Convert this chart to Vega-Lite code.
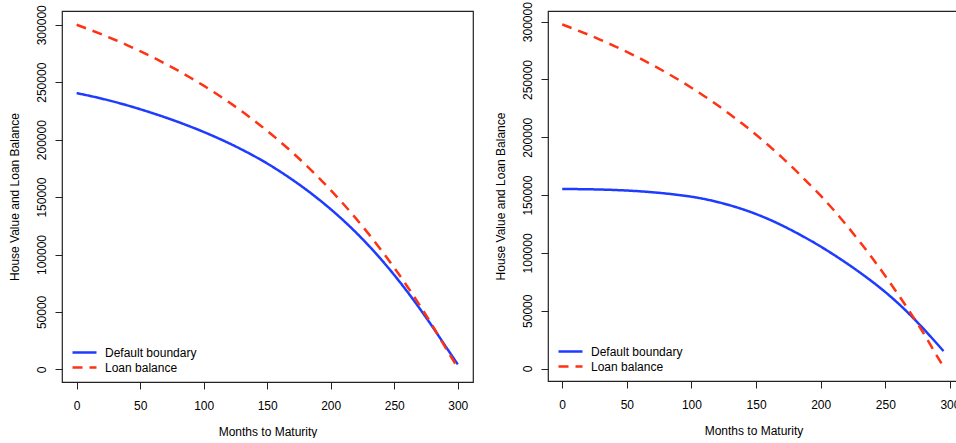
{
  "$schema": "https://vega.github.io/schema/vega-lite/v6.json",
  "background": "white",
  "padding": {"left": 7, "top": 1, "right": 0, "bottom": 0},
  "spacing": 19,
  "config": {
    "font": "Liberation Sans",
    "view": {"stroke": "#222222", "strokeWidth": 1.2},
    "axis": {
      "domain": false, "grid": false, "tickColor": "#222222", "tickSize": 7, "tickWidth": 1,
      "labelFont": "Liberation Sans", "labelFontSize": 12, "labelColor": "#000000",
      "titleFont": "Liberation Sans", "titleFontSize": 12, "titleFontWeight": "normal", "titleColor": "#000000"
    },
    "axisX": {"labelPadding": 11, "titlePadding": 15},
    "axisY": {"labelAngle": -90, "labelAlign": "center", "labelBaseline": "bottom", "labelPadding": 7, "titlePadding": 14},
    "legend": {
      "orient": "bottom-left", "offset": 7, "padding": 0, "title": null,
      "symbolType": "stroke", "symbolSize": 576, "symbolStrokeWidth": 2.5, "symbolOffset": 2,
      "labelFont": "Liberation Sans", "labelFontSize": 12, "labelColor": "#000000", "labelOffset": 7,
      "rowPadding": 0, "clipHeight": 15
    }
  },
  "datasets": {
    "left": [
      {"month": 0, "series": "Default boundary", "value": 240500},
      {"month": 10, "series": "Default boundary", "value": 238200},
      {"month": 20, "series": "Default boundary", "value": 235650},
      {"month": 30, "series": "Default boundary", "value": 232850},
      {"month": 40, "series": "Default boundary", "value": 229800},
      {"month": 50, "series": "Default boundary", "value": 226500},
      {"month": 60, "series": "Default boundary", "value": 223000},
      {"month": 70, "series": "Default boundary", "value": 219300},
      {"month": 80, "series": "Default boundary", "value": 215350},
      {"month": 90, "series": "Default boundary", "value": 211150},
      {"month": 100, "series": "Default boundary", "value": 206700},
      {"month": 110, "series": "Default boundary", "value": 201950},
      {"month": 120, "series": "Default boundary", "value": 196850},
      {"month": 130, "series": "Default boundary", "value": 191400},
      {"month": 140, "series": "Default boundary", "value": 185550},
      {"month": 150, "series": "Default boundary", "value": 179250},
      {"month": 160, "series": "Default boundary", "value": 172350},
      {"month": 170, "series": "Default boundary", "value": 164950},
      {"month": 180, "series": "Default boundary", "value": 157050},
      {"month": 190, "series": "Default boundary", "value": 148550},
      {"month": 200, "series": "Default boundary", "value": 139450},
      {"month": 210, "series": "Default boundary", "value": 129650},
      {"month": 220, "series": "Default boundary", "value": 119050},
      {"month": 230, "series": "Default boundary", "value": 107650},
      {"month": 240, "series": "Default boundary", "value": 95350},
      {"month": 250, "series": "Default boundary", "value": 82150},
      {"month": 260, "series": "Default boundary", "value": 68050},
      {"month": 270, "series": "Default boundary", "value": 53050},
      {"month": 280, "series": "Default boundary", "value": 37250},
      {"month": 290, "series": "Default boundary", "value": 20750},
      {"month": 300, "series": "Default boundary", "value": 4350},
      {"month": 0, "series": "Loan balance", "value": 300000},
      {"month": 10, "series": "Loan balance", "value": 295896},
      {"month": 20, "series": "Loan balance", "value": 291564},
      {"month": 30, "series": "Loan balance", "value": 286989},
      {"month": 40, "series": "Loan balance", "value": 282162},
      {"month": 50, "series": "Loan balance", "value": 277065},
      {"month": 60, "series": "Loan balance", "value": 271689},
      {"month": 70, "series": "Loan balance", "value": 266010},
      {"month": 80, "series": "Loan balance", "value": 260019},
      {"month": 90, "series": "Loan balance", "value": 253695},
      {"month": 100, "series": "Loan balance", "value": 247017},
      {"month": 110, "series": "Loan balance", "value": 239970},
      {"month": 120, "series": "Loan balance", "value": 232533},
      {"month": 130, "series": "Loan balance", "value": 224682},
      {"month": 140, "series": "Loan balance", "value": 216396},
      {"month": 150, "series": "Loan balance", "value": 207648},
      {"month": 160, "series": "Loan balance", "value": 198414},
      {"month": 170, "series": "Loan balance", "value": 188670},
      {"month": 180, "series": "Loan balance", "value": 178383},
      {"month": 190, "series": "Loan balance", "value": 167526},
      {"month": 200, "series": "Loan balance", "value": 156066},
      {"month": 210, "series": "Loan balance", "value": 143970},
      {"month": 220, "series": "Loan balance", "value": 131202},
      {"month": 230, "series": "Loan balance", "value": 117726},
      {"month": 240, "series": "Loan balance", "value": 103503},
      {"month": 250, "series": "Loan balance", "value": 88488},
      {"month": 260, "series": "Loan balance", "value": 72642},
      {"month": 270, "series": "Loan balance", "value": 55914},
      {"month": 280, "series": "Loan balance", "value": 38259},
      {"month": 290, "series": "Loan balance", "value": 19623},
      {"month": 300, "series": "Loan balance", "value": 1500}
    ],
    "right": [
      {"month": 0, "series": "Default boundary", "value": 155300},
      {"month": 10, "series": "Default boundary", "value": 155200},
      {"month": 20, "series": "Default boundary", "value": 155050},
      {"month": 30, "series": "Default boundary", "value": 154800},
      {"month": 40, "series": "Default boundary", "value": 154450},
      {"month": 50, "series": "Default boundary", "value": 153950},
      {"month": 60, "series": "Default boundary", "value": 153300},
      {"month": 70, "series": "Default boundary", "value": 152450},
      {"month": 80, "series": "Default boundary", "value": 151400},
      {"month": 90, "series": "Default boundary", "value": 150100},
      {"month": 100, "series": "Default boundary", "value": 148600},
      {"month": 110, "series": "Default boundary", "value": 146600},
      {"month": 120, "series": "Default boundary", "value": 144100},
      {"month": 130, "series": "Default boundary", "value": 141100},
      {"month": 140, "series": "Default boundary", "value": 137600},
      {"month": 150, "series": "Default boundary", "value": 133600},
      {"month": 160, "series": "Default boundary", "value": 129000},
      {"month": 170, "series": "Default boundary", "value": 123800},
      {"month": 180, "series": "Default boundary", "value": 118100},
      {"month": 190, "series": "Default boundary", "value": 112000},
      {"month": 200, "series": "Default boundary", "value": 105500},
      {"month": 210, "series": "Default boundary", "value": 98500},
      {"month": 220, "series": "Default boundary", "value": 91100},
      {"month": 230, "series": "Default boundary", "value": 83300},
      {"month": 240, "series": "Default boundary", "value": 75000},
      {"month": 250, "series": "Default boundary", "value": 66100},
      {"month": 260, "series": "Default boundary", "value": 56300},
      {"month": 270, "series": "Default boundary", "value": 45500},
      {"month": 280, "series": "Default boundary", "value": 33800},
      {"month": 290, "series": "Default boundary", "value": 21400},
      {"month": 295, "series": "Default boundary", "value": 15100},
      {"month": 0, "series": "Loan balance", "value": 297600},
      {"month": 10, "series": "Loan balance", "value": 293340},
      {"month": 20, "series": "Loan balance", "value": 288860},
      {"month": 30, "series": "Loan balance", "value": 284140},
      {"month": 40, "series": "Loan balance", "value": 279150},
      {"month": 50, "series": "Loan balance", "value": 273880},
      {"month": 60, "series": "Loan balance", "value": 268330},
      {"month": 70, "series": "Loan balance", "value": 262460},
      {"month": 80, "series": "Loan balance", "value": 256270},
      {"month": 90, "series": "Loan balance", "value": 249740},
      {"month": 100, "series": "Loan balance", "value": 242850},
      {"month": 110, "series": "Loan balance", "value": 235570},
      {"month": 120, "series": "Loan balance", "value": 227880},
      {"month": 130, "series": "Loan balance", "value": 219770},
      {"month": 140, "series": "Loan balance", "value": 211210},
      {"month": 150, "series": "Loan balance", "value": 202170},
      {"month": 160, "series": "Loan balance", "value": 192640},
      {"month": 170, "series": "Loan balance", "value": 182570},
      {"month": 180, "series": "Loan balance", "value": 171960},
      {"month": 190, "series": "Loan balance", "value": 160750},
      {"month": 200, "series": "Loan balance", "value": 149500},
      {"month": 210, "series": "Loan balance", "value": 137100},
      {"month": 220, "series": "Loan balance", "value": 123900},
      {"month": 230, "series": "Loan balance", "value": 110000},
      {"month": 240, "series": "Loan balance", "value": 95400},
      {"month": 250, "series": "Loan balance", "value": 80000},
      {"month": 260, "series": "Loan balance", "value": 64000},
      {"month": 270, "series": "Loan balance", "value": 47300},
      {"month": 280, "series": "Loan balance", "value": 29800},
      {"month": 290, "series": "Loan balance", "value": 10800},
      {"month": 294, "series": "Loan balance", "value": 3500}
    ]
  },
  "hconcat": [
    {
      "width": 411, "height": 371,
      "data": {"name": "left"},
      "mark": {"type": "line", "strokeWidth": 2.5, "interpolate": "monotone", "strokeCap": "butt"},
      "encoding": {
        "x": {"field": "month", "type": "quantitative", "scale": {"domain": [-11.5, 312], "nice": false, "zero": false},
              "axis": {"values": [0, 50, 100, 150, 200, 250, 300], "title": "Months to Maturity"}},
        "y": {"field": "value", "type": "quantitative", "scale": {"domain": [-11000, 312000], "nice": false, "zero": false},
              "axis": {"values": [0, 50000, 100000, 150000, 200000, 250000, 300000], "format": "d", "title": "House Value and Loan Balance"}},
        "color": {"field": "series", "type": "nominal", "scale": {"domain": ["Default boundary", "Loan balance"], "range": ["#1e3cff", "#ff3314"]}, "legend": {"title": null}},
        "strokeDash": {"field": "series", "type": "nominal", "scale": {"domain": ["Default boundary", "Loan balance"], "range": [[1, 0], [10, 7]]}, "legend": {"title": null}}
      }
    },
    {
      "width": 411, "height": 370,
      "data": {"name": "right"},
      "mark": {"type": "line", "strokeWidth": 2.5, "interpolate": "monotone", "strokeCap": "butt"},
      "encoding": {
        "x": {"field": "month", "type": "quantitative", "scale": {"domain": [-11, 307], "nice": false, "zero": false},
              "axis": {"values": [0, 50, 100, 150, 200, 250, 300], "title": "Months to Maturity"}},
        "y": {"field": "value", "type": "quantitative", "scale": {"domain": [-10800, 309250], "nice": false, "zero": false},
              "axis": {"values": [0, 50000, 100000, 150000, 200000, 250000, 300000], "format": "d", "title": "House Value and Loan Balance"}},
        "color": {"field": "series", "type": "nominal", "scale": {"domain": ["Default boundary", "Loan balance"], "range": ["#1e3cff", "#ff3314"]}, "legend": {"title": null}},
        "strokeDash": {"field": "series", "type": "nominal", "scale": {"domain": ["Default boundary", "Loan balance"], "range": [[1, 0], [10, 7]]}, "legend": {"title": null}}
      }
    }
  ],
  "resolve": {"scale": {"x": "independent", "y": "independent", "color": "independent", "strokeDash": "independent"}, "legend": {"color": "independent", "strokeDash": "independent"}}
}
